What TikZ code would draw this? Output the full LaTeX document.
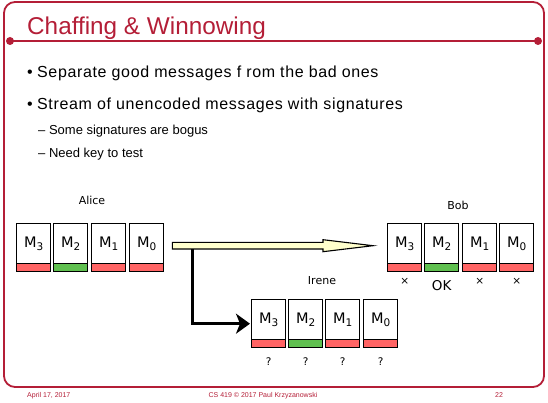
\documentclass[tikz,border=0pt]{standalone}
\usepackage{fontspec}
\setmainfont{Liberation Sans}
\newfontfamily\dv{DejaVu Sans}
\newfontfamily\bodyfont[LetterSpace=4]{Liberation Sans}
\usetikzlibrary{arrows.meta,calc}
\definecolor{frame}{RGB}{180,30,55}
\definecolor{badred}{RGB}{255,100,100}
\definecolor{goodgreen}{RGB}{96,192,80}
\definecolor{paleyellow}{RGB}{255,255,204}
\tikzset{
  msg/.style={draw, line width=1.4pt, minimum width=34pt, minimum height=48pt,
    inner sep=0pt, anchor=north west, fill=white,
    path picture={\fill[#1] (path picture bounding box.south west) rectangle ([yshift=8.5pt]path picture bounding box.south east);
      \draw[line width=1.4pt] ([yshift=8.5pt]path picture bounding box.south west) -- ([yshift=8.5pt]path picture bounding box.south east);}},
  mlabel/.style={font=\dv\fontsize{14.5}{15}\selectfont, inner sep=0pt},
  who/.style={font=\dv\fontsize{11}{12}\selectfont, inner sep=0pt},
  verdict/.style={font=\dv\fontsize{10.5}{11}\selectfont, inner sep=0pt},
  bigbullet/.style={anchor=base west, inner sep=0pt, font=\bodyfont\fontsize{16}{18}\selectfont},
  subbullet/.style={anchor=base west, inner sep=0pt, font=\fontsize{13}{15}\selectfont},
  foot/.style={inner sep=0pt, anchor=base, text=frame, font=\fontsize{7}{8}\selectfont},
}
\newcommand\sub[1]{{\fontsize{10.5}{11}\selectfont\raisebox{-3pt}{#1}}}
\newcommand\msgbox[5]{%
  \node[msg=#5] (#1) at (#2,#3) {};
  \node[mlabel] (#1l) at ([yshift=3.5pt]#1.center) {M\sub{#4}};
}
\begin{document}
\begin{tikzpicture}[x=1pt,y=-1pt]
\useasboundingbox (0,0) rectangle (548,403);
% frame
\draw[frame, line width=1.8pt, rounded corners=11pt] (4,2) rectangle (544,387);
\draw[frame, line width=2.6pt] (10,41) -- (538,41);
\fill[frame] (10,41) circle (4pt) (538,41) circle (4pt);
\node[anchor=base west, inner sep=0pt, text=frame, font=\fontsize{24.3}{26}\selectfont] (title) at (27,35) {Chaffing \& Winnowing};
% bullets
\node[bigbullet] (b1d) at (27,78) {\textbullet};
\node[bigbullet] (b1) at (37,78) {Separate good messages f rom the bad ones};
\node[bigbullet] (b2d) at (27,110) {\textbullet};
\node[bigbullet] (b2) at (37,110) {Stream of unencoded messages with signatures};
\node[subbullet] (s1) at (38,135) {– Some signatures are bogus};
\node[subbullet] (s2) at (38,158) {– Need key to test};
% Alice
\node[who] (alice) at (92,200) {Alice};
\msgbox{a3}{16}{223}{3}{badred}
\msgbox{a2}{53}{223}{2}{goodgreen}
\msgbox{a1}{91}{223}{1}{badred}
\msgbox{a0}{129}{223}{0}{badred}
% Bob
\node[who] (bob) at (458,205) {Bob};
\msgbox{b3}{387}{223}{3}{badred}
\msgbox{b2}{424}{223}{2}{goodgreen}
\msgbox{b1}{462}{223}{1}{badred}
\msgbox{b0}{499}{223}{0}{badred}
\node[verdict] (x3) at ([yshift=-9pt]b3.south) {×};
\node[font=\dv\fontsize{13.5}{14}\selectfont, inner sep=0pt] (ok) at ([yshift=-13pt]b2.south) {OK};
\node[verdict] (x1) at ([yshift=-9pt]b1.south) {×};
\node[verdict] (x0) at ([yshift=-9pt]b0.south) {×};
% Irene
\node[who] (irene) at (322,281) {Irene};
\msgbox{i3}{251}{299}{3}{badred}
\msgbox{i2}{288}{299}{2}{goodgreen}
\msgbox{i1}{325}{299}{1}{badred}
\msgbox{i0}{363}{299}{0}{badred}
\node[verdict] (q3) at ([yshift=-13pt]i3.south) {?};
\node[verdict] (q2) at ([yshift=-13pt]i2.south) {?};
\node[verdict] (q1) at ([yshift=-13pt]i1.south) {?};
\node[verdict] (q0) at ([yshift=-13pt]i0.south) {?};
% yellow arrow from Alice to Bob
\coordinate (ys) at ($(a0.east)+(8,-2)$);
\coordinate (ye) at ($(b3.west)+(-14,-2)$);
\draw[line width=1.1pt, fill=paleyellow, line join=miter]
  ($(ys)+(0,-3.3)$) -- ($(ye)+(-50,-3.3)$) -- ($(ye)+(-50,-6)$) -- (ye)
  -- ($(ye)+(-50,6)$) -- ($(ye)+(-50,3.3)$) -- ($(ys)+(0,3.3)$) -- cycle;
% black arrow to Irene
\coordinate (split) at ($(ys)+(20,3.3)$);
\draw[line width=3.5pt, -{Stealth[length=14pt,width=20pt,inset=4pt]}] (split) |- ([xshift=-1pt]i3.west);
% footer
\node[foot, anchor=base west] (date) at (27,397) {April 17, 2017};
\node[foot] (course) at (263,397) {CS 419 © 2017 Paul Krzyzanowski};
\node[foot] (page) at (499,397) {22};
\end{tikzpicture}
\end{document}
